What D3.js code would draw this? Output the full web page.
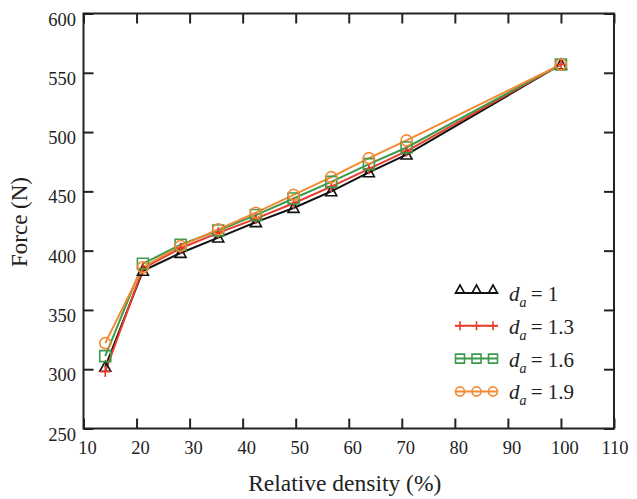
<!DOCTYPE html>
<html>
<head>
<meta charset="utf-8">
<script src="https://cdn.jsdelivr.net/npm/d3@7/dist/d3.min.js"></script>
<style>
  body { margin: 0; background: #fff; }
  svg { display: block; }
  text { font-family: "Liberation Serif", "Times New Roman", serif; fill: #222; }
</style>
</head>
<body>
<svg id="chart" width="637" height="499"></svg>
<script>
// ---- data ----
const density = [14.1, 21.2, 28.3, 35.4, 42.5, 49.6, 56.7, 63.8, 70.9, 100];
const force_da1  = [302, 383, 398, 411, 424, 436, 450, 466, 481, 557];
const force_da13 = [298, 385, 402, 415, 427, 440, 454, 469, 484, 557];
const force_da16 = [311, 389, 405, 417, 430, 444, 458, 473, 487, 557];
const force_da19 = [322, 386, 404, 418, 432, 447, 462, 478, 493, 557];
const seriesNames = ["1", "1.3", "1.6", "1.9"];
const xTicks = [10, 20, 30, 40, 50, 60, 70, 80, 90, 100, 110];
const yTicks = [250, 300, 350, 400, 450, 500, 550, 600];

const series = [
  { name: seriesNames[0], values: force_da1,  color: "#111111", marker: "triangle" },
  { name: seriesNames[1], values: force_da13, color: "#ea3b2b", marker: "plus" },
  { name: seriesNames[2], values: force_da16, color: "#3c9a4c", marker: "square" },
  { name: seriesNames[3], values: force_da19, color: "#f28a34", marker: "circle" }
];

// ---- layout ----
const L = 83.5, R = 614, T = 13.5, B = 428.5;
const x = d3.scaleLinear().domain([10, 110]).range([L, R]);
const y = d3.scaleLinear().domain([250, 600]).range([B, T]);
const svg = d3.select("#chart");

function markerPath(type, s) {
  const h = s / 2;
  switch (type) {
    case "triangle": return `M0,${-h}L${h},${h*0.8}L${-h},${h*0.8}Z`;
    case "plus": return `M${-h},0L${h},0M0,${-h}L0,${h}`;
    case "square": return `M${-h},${-h}L${h},${-h}L${h},${h}L${-h},${h}Z`;
    case "circle": return d3.arc()({innerRadius: 0, outerRadius: h, startAngle: 0, endAngle: 2 * Math.PI});
  }
}

// ---- series ----
const line = d3.line().x((d, i) => x(density[i])).y(d => y(d));
series.forEach(s => {
  svg.append("path")
    .attr("d", line(s.values))
    .attr("fill", "none")
    .attr("stroke", s.color)
    .attr("stroke-width", 2);
});
series.forEach(s => {
  svg.append("g").selectAll("path")
    .data(s.values)
    .join("path")
    .attr("transform", (d, i) => `translate(${x(density[i])},${y(d)})`)
    .attr("d", markerPath(s.marker, 11))
    .attr("fill", "none")
    .attr("stroke", s.color)
    .attr("stroke-width", 1.6);
});

// ---- axes (frame with inward ticks) ----
const axisColor = "#222";
const gBottom = svg.append("g").attr("transform", `translate(0,${B})`)
  .call(d3.axisBottom(x).tickValues(xTicks).tickSize(-10).tickFormat(""));
const gTop = svg.append("g").attr("transform", `translate(0,${T})`)
  .call(d3.axisTop(x).tickValues(xTicks).tickSize(-10).tickFormat(""));
const gLeft = svg.append("g").attr("transform", `translate(${L},0)`)
  .call(d3.axisLeft(y).tickValues(yTicks).tickSize(-10).tickFormat(""));
const gRight = svg.append("g").attr("transform", `translate(${R},0)`)
  .call(d3.axisRight(y).tickValues(yTicks).tickSize(-10).tickFormat(""));
[gBottom, gTop, gLeft, gRight].forEach(g => {
  g.selectAll(".domain").remove();
  g.selectAll("line").attr("stroke", axisColor).attr("stroke-width", 2);
});
svg.append("rect")
  .attr("x", L).attr("y", T).attr("width", R - L).attr("height", B - T)
  .attr("fill", "none").attr("stroke", axisColor).attr("stroke-width", 2);

// tick labels
svg.append("g").selectAll("text")
  .data(xTicks)
  .join("text")
  .attr("x", d => x(d) + (d === 110 ? 1 : 4))
  .attr("y", 454)
  .attr("text-anchor", "middle")
  .attr("font-size", 18.5)
  .text(d => d);
svg.append("g").selectAll("text")
  .data(yTicks)
  .join("text")
  .attr("x", 76)
  .attr("y", d => y(d) + 12)
  .attr("text-anchor", "end")
  .attr("font-size", 18.5)
  .text(d => d);

// axis titles
svg.append("text")
  .attr("x", (L + R) / 2 - 4).attr("y", 491)
  .attr("text-anchor", "middle").attr("font-size", 23.5)
  .text("Relative density (%)");
svg.append("text")
  .attr("transform", `translate(27,222) rotate(-90)`)
  .attr("text-anchor", "middle").attr("font-size", 23)
  .text("Force (N)");

// ---- legend ----
const legY0 = 293, legDy = 32.8;
series.forEach((s, i) => {
  const ly = legY0 + i * legDy;
  const g = svg.append("g");
  g.append("line").attr("x1", 455).attr("x2", 498).attr("y1", ly).attr("y2", ly)
    .attr("stroke", s.color).attr("stroke-width", 2);
  [460, 476.5, 493].forEach(mx => {
    g.append("path")
      .attr("transform", s.marker === "triangle" ? `translate(${mx},${ly - 3.5})` : `translate(${mx},${ly})`)
      .attr("d", markerPath(s.marker, 9))
      .attr("fill", "none").attr("stroke", s.color).attr("stroke-width", 1.6);
  });
  const t = g.append("text").attr("x", 509).attr("y", ly + 8).attr("font-size", 21);
  t.append("tspan").attr("font-style", "italic").text("d");
  t.append("tspan").attr("font-style", "italic").attr("font-size", 14).attr("dy", 6).text("a");
  t.append("tspan").attr("dy", -6).text("\u2009= " + s.name);
});
</script>
</body>
</html>
